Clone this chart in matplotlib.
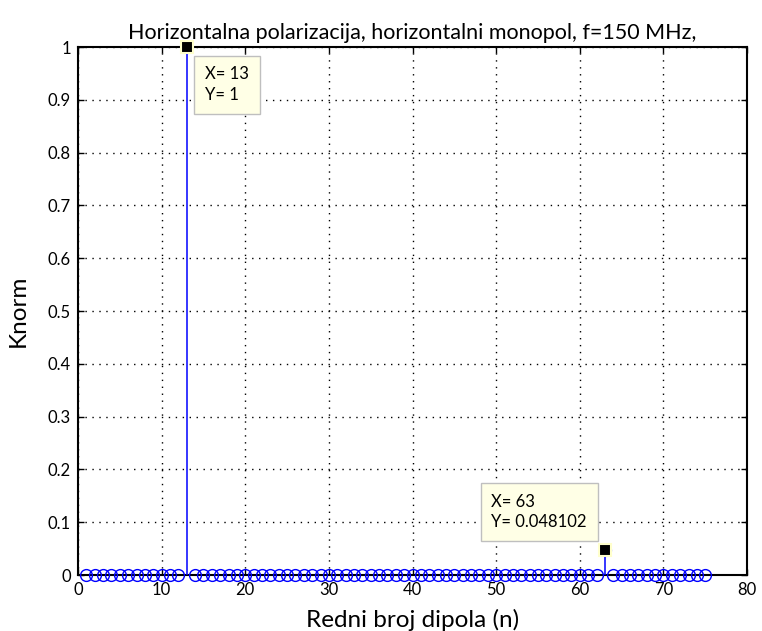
import numpy as np
import matplotlib
matplotlib.use('Agg')
import matplotlib.pyplot as plt

# stem data: dipole index and normalised current
n_dipol = list(range(1, 76))
knorm = [0.0] * 75
knorm[12] = 1.0        # n = 13
knorm[62] = 0.048102   # n = 63

# data tips
tips_x = [13, 63]
tips_y = [1, 0.048102]
tips_txt = ['X= 13\nY= 1', 'X= 63\nY= 0.048102']

x_ticks = list(range(0, 81, 10))
y_ticks = [0, 0.1, 0.2, 0.3, 0.4, 0.5, 0.6, 0.7, 0.8, 0.9, 1]
y_tick_labels = ['0', '0.1', '0.2', '0.3', '0.4', '0.5', '0.6', '0.7', '0.8', '0.9', '1']

plt.rcParams['font.family'] = ['Lato', 'DejaVu Sans']

fig = plt.figure(figsize=(7.62, 6.31), dpi=100)
ax = fig.add_axes([0.1024, 0.0887, 0.878, 0.8368])

blue = '#0000ff'
ax.vlines(n_dipol, 0, knorm, color=blue, linewidth=1.1, zorder=3)
ax.plot(n_dipol, knorm, linestyle='none', marker='o', markersize=8.5,
        markerfacecolor='none', markeredgecolor=blue, markeredgewidth=1.0,
        clip_on=False, zorder=4)

ax.set_xlim(0, 80)
ax.set_ylim(0, 1)
ax.set_xticks(x_ticks)
ax.set_yticks(y_ticks)
ax.set_yticklabels(y_tick_labels)
ax.tick_params(direction='in', top=True, right=True, length=4, width=1,
               labelsize=12, colors='black', pad=5)
ax.grid(True, linestyle=(0, (1, 4)), color='black', linewidth=1.0)
for sp in ax.spines.values():
    sp.set_linewidth(1.5)

ax.set_title('Horizontalna polarizacija, horizontalni monopol, f=150 MHz,',
             fontsize=15.5, pad=6)
ax.set_xlabel('Redni broj dipola (n)', fontsize=17.5, labelpad=8)
ax.set_ylabel('Knorm', fontsize=17.5, labelpad=14)

# datatip markers and boxes
ax.plot(tips_x, tips_y, linestyle='none', marker='s', markersize=9,
        markerfacecolor='black', markeredgecolor='#ffffcc', markeredgewidth=1.5,
        clip_on=False, zorder=6)
box = dict(boxstyle='square,pad=0.65', facecolor='#ffffe6', edgecolor='#bfbfbf', linewidth=1)
ax.annotate(tips_txt[0], xy=(tips_x[0], tips_y[0]), xytext=(13, -14),
            textcoords='offset points', ha='left', va='top', fontsize=12,
            linespacing=1.35, bbox=box, zorder=7)
ax.annotate(tips_txt[1], xy=(tips_x[1], tips_y[1]), xytext=(-13, 14),
            textcoords='offset points', ha='right', va='bottom', fontsize=12,
            multialignment='left', linespacing=1.35, bbox=box, zorder=7)

fig.savefig('out.png', dpi=100)
